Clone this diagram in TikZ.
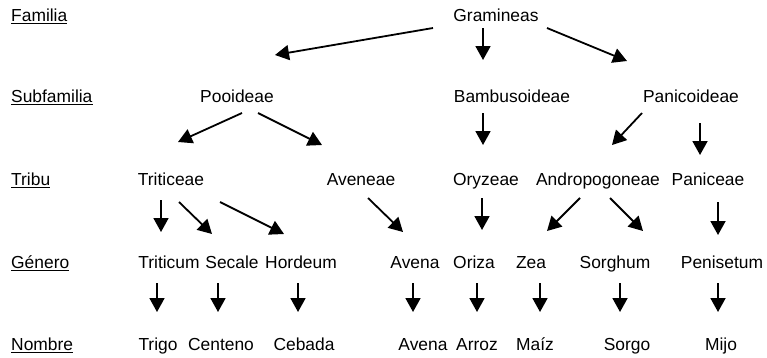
\documentclass[tikz,border=0pt]{standalone}
\usepackage{fontspec}
\setmainfont{Liberation Sans}
\usetikzlibrary{arrows.meta,calc}

\begin{document}
\begin{tikzpicture}[x=1pt,y=-1pt,
  every node/.style={inner sep=0pt, font=\fontsize{17.4}{20}\selectfont},
  taxon/.style={anchor=base},
  rank/.style={anchor=base west},
  uline/.style={line width=1.3pt},
  arr/.style={line width=1.8pt, -{Triangle[length=14pt,width=15pt]}}]
\useasboundingbox (0,0) rectangle (767,357);

% rank labels on the left, each underlined
\node[rank] (rF) at (11,21)  {Familia};
\node[rank] (rS) at (11,102) {Subfamilia};
\node[rank] (rT) at (11,185) {Tribu};
\node[rank] (rG) at (11,268) {Género};
\node[rank] (rN) at (11,350) {Nombre};
\foreach \r in {rF,rS,rT,rG,rN}
  \draw[uline] ($(\r.base west)+(0,2.6)$) -- ($(\r.base east)+(0,2.6)$);

% family
\node[taxon] (gram) at (496,21) {Gramineas};
% subfamilies
\node[taxon] (pooi) at (237,102) {Pooideae};
\node[taxon] (bamb) at (512,102) {Bambusoideae};
\node[taxon] (pani) at (691,102) {Panicoideae};
% tribes
\node[taxon] (trit) at (171,185) {Triticeae};
\node[taxon] (aven) at (361,185) {Aveneae};
\node[taxon] (oryz) at (486,185) {Oryzeae};
\node[taxon] (andr) at (598,185) {Andropogoneae};
\node[taxon] (panc) at (708,185) {Paniceae};
% genera
\node[taxon] (triticum) at (169,268) {Triticum};
\node[taxon] (secale)   at (232,268) {Secale};
\node[taxon] (hordeum)  at (301,268) {Hordeum};
\node[taxon] (avena)    at (415,268) {Avena};
\node[taxon] (oriza)    at (474,268) {Oriza};
\node[taxon] (zea)      at (531,268) {Zea};
\node[taxon] (sorghum)  at (615,268) {Sorghum};
\node[taxon] (penis)    at (722,268) {Penisetum};
% common names
\node[taxon] (trigo)   at (158,350) {Trigo};
\node[taxon] (centeno) at (221,350) {Centeno};
\node[taxon] (cebada)  at (304,350) {Cebada};
\node[taxon] (avenaN)  at (423,350) {Avena};
\node[taxon] (arroz)   at (477,350) {Arroz};
\node[taxon] (maiz)    at (535,350) {Maíz};
\node[taxon] (sorgo)   at (627,350) {Sorgo};
\node[taxon] (mijo)    at (721,350) {Mijo};

% family -> subfamilies
\draw[arr] ($(gram.base)+(-63,7)$) -- ($(pooi.base)+(38,-47)$);
\draw[arr] ($(gram.base)+(-13,7)$) -- ($(bamb.base)+(-29,-42)$);
\draw[arr] ($(gram.base)+(51,7)$)  -- ($(pani.base)+(-64,-41)$);
% subfamilies -> tribes
\draw[arr] ($(pooi.base)+(5,11)$)   -- ($(trit.base)+(7,-43)$);
\draw[arr] ($(pooi.base)+(21,11)$)  -- ($(aven.base)+(-39,-40)$);
\draw[arr] ($(bamb.base)+(-29,11)$) -- ($(oryz.base)+(-3,-40)$);
\draw[arr] ($(pani.base)+(-49,11)$) -- ($(andr.base)+(14,-40)$);
\draw[arr] ($(pani.base)+(9,21)$)   -- ($(panc.base)+(-8,-30)$);
% tribes -> genera
\draw[arr] ($(trit.base)+(-10,15)$) -- ($(triticum.base)+(-8,-36)$);
\draw[arr] ($(trit.base)+(8,17)$)   -- ($(secale.base)+(-20,-34)$);
\draw[arr] ($(trit.base)+(49,17)$)  -- ($(hordeum.base)+(-17,-34)$);
\draw[arr] ($(aven.base)+(7,13)$)   -- ($(avena.base)+(-12,-36)$);
\draw[arr] ($(oryz.base)+(-4,13)$)  -- ($(oriza.base)+(8,-38)$);
\draw[arr] ($(andr.base)+(-18,13)$) -- ($(zea.base)+(16,-37)$);
\draw[arr] ($(andr.base)+(12,13)$)  -- ($(sorghum.base)+(28,-37)$);
\draw[arr] ($(panc.base)+(10,17)$)  -- ($(penis.base)+(-4,-33)$);
% genera -> common names
\draw[arr] ($(triticum.base)+(-12,15)$) -- ($(trigo.base)+(-1,-38)$);
\draw[arr] ($(secale.base)+(-14,15)$)   -- ($(centeno.base)+(-3,-38)$);
\draw[arr] ($(hordeum.base)+(-3,15)$)   -- ($(cebada.base)+(-6,-38)$);
\draw[arr] ($(avena.base)+(-2,15)$)     -- ($(avenaN.base)+(-10,-38)$);
\draw[arr] ($(oriza.base)+(3,15)$)      -- ($(arroz.base)+(0,-38)$);
\draw[arr] ($(zea.base)+(9,15)$)        -- ($(maiz.base)+(5,-38)$);
\draw[arr] ($(sorghum.base)+(5,15)$)    -- ($(sorgo.base)+(-7,-38)$);
\draw[arr] ($(penis.base)+(-4,15)$)     -- ($(mijo.base)+(-3,-38)$);
\end{tikzpicture}
\end{document}
